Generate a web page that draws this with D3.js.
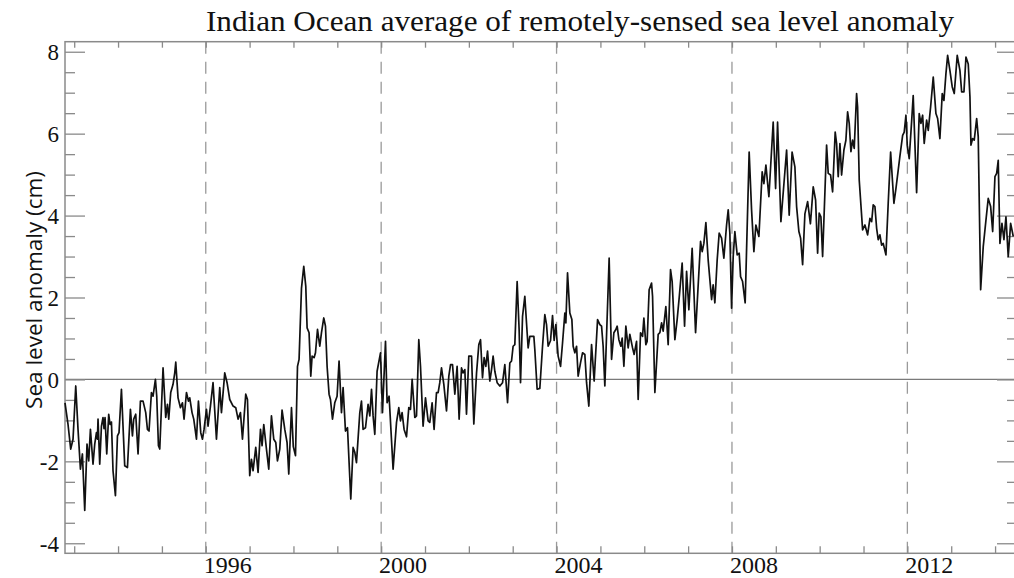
<!DOCTYPE html>
<html><head><meta charset="utf-8">
<script src="https://cdn.jsdelivr.net/npm/d3@7"></script>
<style>
html,body{margin:0;padding:0;background:#fff;}
svg{display:block;}
</style></head>
<body>
<svg id="chart" width="1014" height="578"></svg>
<script>
const title = "Indian Ocean average of remotely-sensed sea level anomaly";
const yLabel = "Sea level anomaly (cm)";
const yTickValues = [-4, -2, 0, 2, 4, 6, 8];
const xTickLabels = [1996, 2000, 2004, 2008, 2012];
const dashedYears = [1996, 2000, 2004, 2008, 2012];

const years = [
1992.79,1992.859,1992.920,1992.973,1993.035,1993.087,1993.142,1993.187,1993.240,1993.292,
1993.331,1993.370,1993.429,1993.468,1993.507,1993.529,1993.543,1993.582,1993.621,1993.657,
1993.680,1993.703,1993.742,1993.787,1993.817,1993.849,1993.885,1993.940,1993.986,1994.022,
1994.077,1994.152,1994.214,1994.282,1994.328,1994.357,1994.403,1994.456,1994.510,1994.570,
1994.631,1994.670,1994.706,1994.761,1994.798,1994.852,1994.882,1994.921,1994.951,1995.026,
1995.087,1995.126,1995.156,1995.201,1995.254,1995.293,1995.316,1995.368,1995.423,1995.468,
1995.505,1995.560,1995.605,1995.635,1995.687,1995.726,1995.788,1995.833,1995.886,1995.925,
1995.961,1996.016,1996.052,1996.107,1996.166,1996.244,1996.319,1996.358,1996.433,1996.486,
1996.547,1996.623,1996.684,1996.737,1996.791,1996.837,1996.912,1996.951,1997.003,1997.042,
1997.079,1997.140,1997.193,1997.248,1997.284,1997.323,1997.384,1997.437,1997.498,1997.551,
1997.597,1997.635,1997.688,1997.740,1997.802,1997.854,1997.893,1997.955,1997.996,1998.046,
1998.092,1998.128,1998.183,1998.235,1998.281,1998.311,1998.356,1998.395,1998.425,1998.470,
1998.502,1998.548,1998.600,1998.639,1998.691,1998.730,1998.767,1998.812,1998.844,1998.890,
1998.942,1998.995,1999.040,1999.095,1999.132,1999.186,1999.232,1999.307,1999.360,1999.399,
1999.437,1999.513,1999.551,1999.588,1999.643,1999.702,1999.741,1999.780,1999.816,1999.855,
1999.907,1999.985,2000.030,2000.099,2000.135,2000.181,2000.272,2000.350,2000.402,2000.441,
2000.477,2000.523,2000.578,2000.630,2000.669,2000.706,2000.767,2000.806,2000.858,2000.897,
2000.956,2001.011,2001.071,2001.109,2001.162,2001.207,2001.262,2001.299,2001.337,2001.376,
2001.429,2001.490,2001.543,2001.582,2001.627,2001.680,2001.732,2001.778,2001.832,2001.869,
2001.908,2001.946,2001.999,2002.061,2002.113,2002.175,2002.227,2002.266,2002.311,2002.348,
2002.387,2002.426,2002.478,2002.517,2002.553,2002.592,2002.645,2002.706,2002.768,2002.820,
2002.882,2002.934,2002.973,2003.009,2003.048,2003.101,2003.146,2003.178,2003.224,2003.276,
2003.329,2003.352,2003.390,2003.443,2003.482,2003.504,2003.557,2003.618,2003.680,2003.732,
2003.771,2003.808,2003.863,2003.908,2003.945,2003.983,2004.036,2004.091,2004.136,2004.189,
2004.212,2004.250,2004.303,2004.349,2004.378,2004.417,2004.456,2004.492,2004.547,2004.592,
2004.645,2004.684,2004.736,2004.798,2004.857,2004.935,2004.987,2005.026,2005.062,2005.101,
2005.199,2005.254,2005.307,2005.352,2005.382,2005.421,2005.466,2005.496,2005.535,2005.580,
2005.633,2005.671,2005.733,2005.769,2005.824,2005.861,2005.915,2005.961,2005.991,2006.036,
2006.066,2006.111,2006.166,2006.189,2006.242,2006.317,2006.356,2006.395,2006.431,2006.492,
2006.545,2006.599,2006.636,2006.698,2006.750,2006.796,2006.864,2006.919,2006.965,2007.017,
2007.092,2007.170,2007.284,2007.321,2007.359,2007.405,2007.457,2007.535,2007.571,2007.610,
2007.663,2007.708,2007.763,2007.815,2007.877,2007.914,2007.952,2007.991,2008.028,2008.066,
2008.119,2008.165,2008.196,2008.242,2008.301,2008.392,2008.447,2008.500,2008.545,2008.614,
2008.689,2008.728,2008.774,2008.842,2008.940,2008.995,2009.040,2009.116,2009.246,2009.305,
2009.371,2009.435,2009.474,2009.526,2009.565,2009.611,2009.663,2009.725,2009.789,2009.853,
2009.907,2009.953,2009.989,2010.028,2010.067,2010.158,2010.195,2010.249,2010.295,2010.354,
2010.386,2010.423,2010.462,2010.500,2010.553,2010.598,2010.637,2010.674,2010.713,2010.751,
2010.788,2010.842,2010.865,2010.902,2010.979,2011.032,2011.093,2011.146,2011.185,2011.221,
2011.260,2011.299,2011.335,2011.374,2011.413,2011.449,2011.511,2011.563,2011.618,2011.693,
2011.739,2011.791,2011.830,2011.892,2011.928,2011.967,2011.997,2012.042,2012.097,2012.133,
2012.211,2012.270,2012.309,2012.348,2012.384,2012.439,2012.476,2012.530,2012.590,2012.651,
2012.690,2012.742,2012.795,2012.834,2012.879,2012.918,2012.971,2013.023,2013.069,2013.137,
2013.199,2013.238,2013.290,2013.336,2013.388,2013.427,2013.450,2013.488,2013.525,2013.580,
2013.616,2013.671,2013.730,2013.792,2013.844,2013.899,2013.945,2013.997,2014.036,2014.072,
2014.111,2014.157,2014.202,2014.248,2014.300,2014.355,2014.415
];

const values = [
-0.57,-1.1,-1.7,-1.46,-0.16,-1.22,-2.19,-1.82,-3.2,-1.58,
-1.99,-1.22,-2.07,-1.58,-1.30,-1.46,-0.97,-2.07,-1.14,-0.93,
-1.2,-0.93,-1.82,-0.85,-1.1,-1.04,-2.23,-2.84,-1.38,-1.30,
-0.24,-2.11,-2.15,-0.73,-1.38,-0.97,-0.85,-1.82,-0.53,-0.53,
-0.81,-1.22,-1.26,-0.32,-0.41,0,-0.41,-1.62,-1.70,0.28,
-0.93,-0.61,-0.97,-0.32,-0.12,0.16,0.42,-0.45,-0.69,-0.57,
-0.97,-0.32,-0.53,-0.45,-0.81,-0.97,-1.46,-0.53,-1.30,-1.46,
-1.22,-0.73,-1.14,-0.65,-0.08,-1.46,-0.2,-0.81,0.16,-0.08,
-0.49,-0.65,-0.69,-0.97,-0.81,-1.46,-0.36,-0.49,-2.35,-1.95,
-2.23,-1.66,-2.27,-1.22,-1.62,-1.10,-1.70,-2.19,-0.89,-1.46,
-1.54,-1.99,-1.70,-0.75,-1.22,-1.54,-2.31,-0.69,-1.64,-1.86,
0.32,0.49,2.23,2.76,2.27,1.26,1.14,0.08,0.57,0.53,
0.65,1.22,0.81,1.14,1.50,1.30,0.32,-0.36,-0.49,-0.97,
-0.57,-0.41,0.45,-0.81,-0.2,-1.26,-1.18,-2.92,-1.66,-1.78,
-2.03,-0.81,-0.53,-1.22,-1.18,-0.61,-0.89,-0.24,-0.89,-1.34,
0.20,0.65,-0.81,0.93,-0.57,-0.41,-2.19,-1.05,-0.69,-1.01,
-0.81,-1.22,-1.4,-0.69,-0.73,0,-0.93,-0.89,0.97,0.32,
-1.14,-0.45,-1.01,-1.05,-0.57,-1.22,-0.32,-0.32,-0.08,0.28,
-0.12,-0.77,0.08,0.36,0.36,-0.36,0.32,-0.97,0.28,0.16,
0.24,-0.85,0.57,0.57,-1.09,0.16,0.85,0.97,0.04,0.53,
0.32,0.69,-0.04,0.24,0.57,0.2,-0.08,-0.16,-0.08,0.36,
-0.57,0.4,0.45,0.81,0.85,2.39,1.22,-0.08,1.54,2.03,
1.14,0.77,1.05,1.05,1.05,0.73,-0.24,-0.22,0.81,1.58,
1.34,0.81,0.95,1.56,0.95,1.34,0.57,0.32,0.89,1.62,
1.38,2.60,1.62,1.46,0.81,0.65,0.81,0.08,0.41,0.65,
0.61,-0.08,-0.65,0.85,-0.04,1.46,1.34,1.30,0.81,-0.16,
2.96,0.49,1.14,1.22,1.30,0.97,0.81,1.01,0.32,1.30,
0.77,1.1,0.77,0.61,0.93,-0.49,1.14,1.05,1.5,0.85,
0.93,2.19,2.35,2.03,-0.32,1.1,1.14,1.38,1.18,1.78,
0.85,2.68,2.39,0.97,1.46,1.99,2.84,1.30,2.64,1.70,
3.2,1.14,3.37,3.12,3.32,3.83,2.92,1.95,2.31,1.87,
2.92,3.57,3.45,2.96,3.77,4.14,3.57,1.74,3.00,3.61,
3.04,3.08,2.51,2.39,1.87,5.55,4.14,3.12,3.77,3.49,
5.07,4.78,5.23,4.46,6.28,4.66,6.28,3.85,5.60,4.01,
5.55,5.19,4.22,3.61,3.45,2.80,4.04,4.34,3.8,4.70,
4.38,3.08,4.06,3.97,3.00,5.72,5.03,4.99,4.58,6.04,
5.76,4.95,5.76,4.99,5.6,5.84,6.53,6.25,5.56,5.84,
5.64,6.98,6.65,4.87,3.65,3.77,3.53,3.93,3.85,4.26,
4.22,3.69,3.41,3.53,3.28,3.32,3.04,4.30,5.55,4.30,
4.66,5.11,5.45,5.96,6.04,6.45,5.72,5.39,6.30,6.93,
4.56,6.49,6.25,6.45,5.76,6.33,6.08,6.65,7.38,6.49,
6.37,5.88,6.98,6.81,7.46,7.91,7.54,7.14,6.98,7.91,
7.54,7.02,7.02,7.87,7.7,6.9,5.72,5.88,5.84,6.37,
5.92,2.19,3.24,3.89,4.42,4.22,3.61,4.95,5.03,5.35,
3.32,3.81,3.41,3.97,3.00,3.81,3.49
];

const svg = d3.select("#chart");
const L = 65, R = 1017, T = 41.7, B = 553.3;
const x = d3.scaleLinear().domain([1992.79, 2014.5]).range([L, R]);
const y = d3.scaleLinear().domain([-4.245, 8.245]).range([B, T]);

const axisColor = "#8a8a8a";

// dashed year lines
svg.append("g").selectAll("line").data(dashedYears).join("line")
  .attr("x1", d => x(d)).attr("x2", d => x(d))
  .attr("y1", T).attr("y2", B)
  .attr("stroke", "#9a9a9a").attr("stroke-width", 1.3)
  .attr("stroke-dasharray", "12,8");

// zero line
svg.append("line").attr("x1", L).attr("x2", R).attr("y1", y(0)).attr("y2", y(0))
  .attr("stroke", "#7a7a7a").attr("stroke-width", 1.2);

// frame
svg.append("rect").attr("x", L).attr("y", T).attr("width", R - L).attr("height", B - T)
  .attr("fill", "none").attr("stroke", axisColor).attr("stroke-width", 1.5);

// y ticks via axes
const majorY = d3.range(-4, 8.01, 2);
const minorY = d3.range(-4, 8.01, 0.5).filter(v => Math.abs(v % 2) > 0.01);
function styleAxis(g) {
  g.select(".domain").remove();
  g.selectAll(".tick line").attr("stroke", axisColor).attr("stroke-width", 1.3);
}
svg.append("g").attr("transform", `translate(${L},0)`)
  .call(d3.axisRight(y).tickValues(majorY).tickSize(20).tickFormat(""))
  .call(styleAxis);
svg.append("g").attr("transform", `translate(${L},0)`)
  .call(d3.axisRight(y).tickValues(minorY).tickSize(10).tickFormat(""))
  .call(styleAxis);
svg.append("g").attr("transform", `translate(${R},0)`)
  .call(d3.axisLeft(y).tickValues(majorY).tickSize(20).tickFormat(""))
  .call(styleAxis);
svg.append("g").attr("transform", `translate(${R},0)`)
  .call(d3.axisLeft(y).tickValues(minorY).tickSize(10).tickFormat(""))
  .call(styleAxis);

// x ticks each year
const yearTicks = d3.range(1993, 2015);
svg.append("g").attr("transform", `translate(0,${B})`)
  .call(d3.axisTop(x).tickValues(yearTicks).tickSize(7).tickFormat(""))
  .call(styleAxis);
svg.append("g").attr("transform", `translate(0,${T})`)
  .call(d3.axisBottom(x).tickValues(yearTicks).tickSize(6).tickFormat(""))
  .call(styleAxis);

// y tick labels
svg.append("g").selectAll("text").data(yTickValues).join("text")
  .attr("x", L - 6).attr("y", d => y(d))
  .attr("dy", "0.36em")
  .attr("text-anchor", "end")
  .attr("font-family", "Liberation Serif, serif").attr("font-size", 23)
  .attr("fill", "#111")
  .text(d => d);

// x tick labels (centered in the year)
svg.append("g").selectAll("text").data(xTickLabels).join("text")
  .attr("x", d => x(d + 0.5)).attr("y", 573)
  .attr("text-anchor", "middle")
  .attr("font-family", "Liberation Serif, serif").attr("font-size", 24)
  .attr("fill", "#111")
  .text(d => d);

// data line
const pts = years.map((yr, i) => [yr, values[i]]);
svg.append("path").datum(pts)
  .attr("fill", "none").attr("stroke", "#111").attr("stroke-width", 1.7)
  .attr("stroke-linejoin", "round")
  .attr("d", d3.line().x(d => x(d[0])).y(d => y(d[1])));

// title
svg.append("text").attr("x", 580).attr("y", 31)
  .attr("text-anchor", "middle")
  .attr("font-family", "Liberation Serif, serif").attr("font-size", 29)
  .attr("textLength", 748).attr("lengthAdjust", "spacingAndGlyphs")
  .attr("fill", "#111")
  .text(title);

// y label
svg.append("text")
  .attr("transform", `translate(42,290) rotate(-90)`)
  .attr("text-anchor", "middle")
  .attr("font-family", "Open Sans, sans-serif").attr("font-size", 22.5)
  .attr("fill", "#111")
  .text(yLabel);
</script>
</body></html>
